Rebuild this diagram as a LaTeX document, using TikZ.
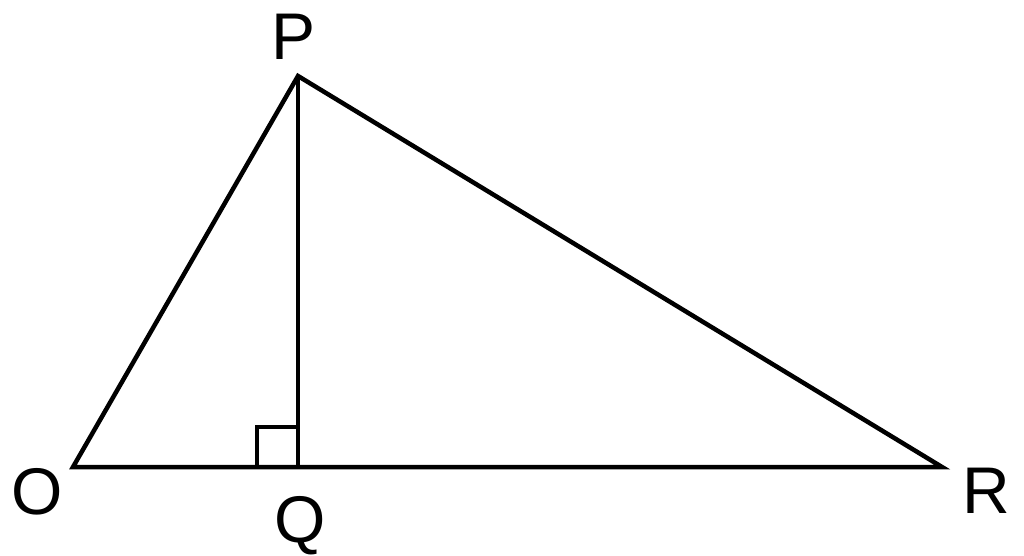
\documentclass[tikz,border=0pt]{standalone}
\usepackage{fontspec}
\setmainfont{Liberation Sans}
\begin{document}
\begin{tikzpicture}[x=1pt,y=-1pt,
  edge/.style={line width=4.5pt,line join=miter,black},
  lbl/.style={anchor=base,inner sep=0pt,font=\fontsize{66}{66}\selectfont}]
\useasboundingbox (0,0) rectangle (1024,556);
\coordinate (O) at (73,467);
\coordinate (P) at (298,76);
\coordinate (Q) at (298,467);
\coordinate (R) at (942,467);
\coordinate (S1) at (257,467);
\coordinate (S2) at (257,427);
\coordinate (S3) at (298,427);
\draw[edge] (O) -- (P) -- (R) -- cycle;
\draw[edge] (P) -- (Q);
\draw[edge,line join=miter] (S1) -- (S2) -- (S3);
\node[lbl] (lP) at (294,60) {P};
\node[lbl] (lO) at (37,514) {O};
\node[lbl] (lQ) at (300,542) {Q};
\node[lbl] (lR) at (986,513) {R};
\end{tikzpicture}
\end{document}
